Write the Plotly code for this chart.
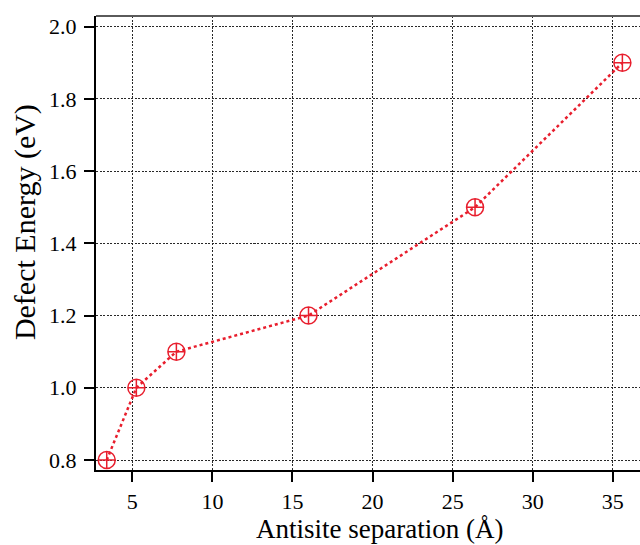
import plotly.graph_objects as go

separation = [3.4, 5.25, 7.75, 16.0, 26.4, 35.6]
energy = [0.8, 1.0, 1.1, 1.2, 1.5, 1.9]
x_ticks = [5, 10, 15, 20, 25, 30, 35]
y_ticks = [0.8, 1.0, 1.2, 1.4, 1.6, 1.8, 2.0]

red = "rgb(232,30,45)"
font = "Liberation Serif"

fig = go.Figure(go.Scatter(
    x=separation, y=energy, mode="lines+markers",
    line=dict(color=red, width=2.5, dash="dot"),
    marker=dict(symbol="circle-cross-open", size=17, color=red, line=dict(width=1.5, color=red)),
))

grid = dict(showgrid=True, gridcolor="rgb(40,40,40)", gridwidth=1, griddash="2px,1.5px", zeroline=False)

fig.update_layout(
    width=640, height=545,
    margin=dict(l=96, r=0, t=16, b=75),
    plot_bgcolor="white", paper_bgcolor="white",
    showlegend=False,
    font=dict(family=font, size=22, color="black"),
    xaxis=dict(
        range=[2.73, 36.7], tickvals=x_ticks, ticks="outside", ticklen=10, tickwidth=2,
        tickcolor="black", showline=True, linecolor="black", linewidth=2,
        tickfont=dict(size=22), ticklabelstandoff=1, **grid,
    ),
    yaxis=dict(
        range=[0.7723, 2.0296], tickvals=y_ticks, ticktext=[f"{v:.1f}" for v in y_ticks],
        ticks="outside", ticklen=10, tickwidth=2,
        tickcolor="black", showline=True, linecolor="black", linewidth=2,
        tickfont=dict(size=22), ticklabelstandoff=3, **grid,
    ),
    shapes=[dict(type="line", xref="paper", yref="paper", x0=0, x1=1, y0=1, y1=1,
                 line=dict(color="rgb(90,90,90)", width=2))],
    annotations=[
        dict(text="Antisite separation (Å)", xref="paper", yref="paper", x=0.522, y=-0.129,
             showarrow=False, xanchor="center", yanchor="middle", font=dict(size=27)),
        dict(text="Defect Energy (eV)", xref="paper", yref="paper", x=-0.1305, y=0.546,
             showarrow=False, xanchor="center", yanchor="middle", textangle=-90, font=dict(size=30)),
    ],
)

fig.write_html("out.html")
